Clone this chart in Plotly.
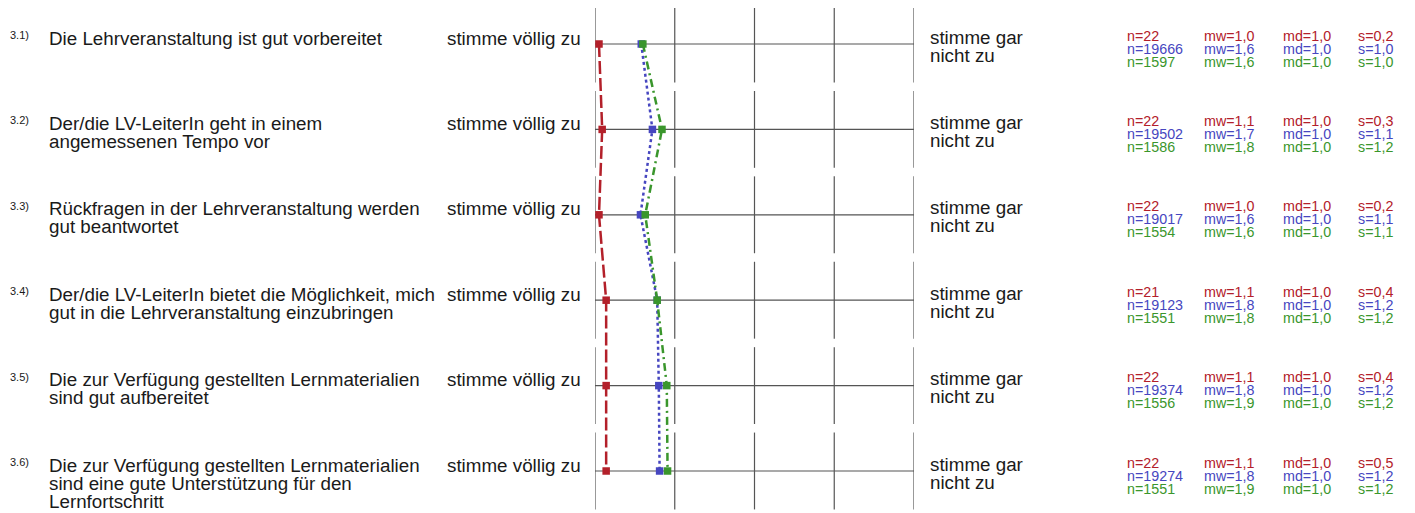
import plotly.graph_objects as go

# ---------------- data ----------------
item_ids = ["3.1)", "3.2)", "3.3)", "3.4)", "3.5)", "3.6)"]
item_text = [
    ["Die Lehrveranstaltung ist gut vorbereitet"],
    ["Der/die LV-LeiterIn geht in einem", "angemessenen Tempo vor"],
    ["Rückfragen in der Lehrveranstaltung werden", "gut beantwortet"],
    ["Der/die LV-LeiterIn bietet die Möglichkeit, mich", "gut in die Lehrveranstaltung einzubringen"],
    ["Die zur Verfügung gestellten Lernmaterialien", "sind gut aufbereitet"],
    ["Die zur Verfügung gestellten Lernmaterialien", "sind eine gute Unterstützung für den", "Lernfortschritt"],
]
left_label = "stimme völlig zu"
right_label = ["stimme gar", "nicht zu"]
scale_levels = [1, 2, 3, 4, 5]

# plotted profile values
red_vals = [1.05, 1.09, 1.05, 1.14, 1.14, 1.14]
blue_vals = [1.58, 1.72, 1.57, 1.78, 1.80, 1.81]
green_vals = [1.60, 1.84, 1.63, 1.78, 1.90, 1.91]

# statistics
red_n = [22, 22, 22, 21, 22, 22]
red_mw = [1.0, 1.1, 1.0, 1.1, 1.1, 1.1]
red_md = [1.0, 1.0, 1.0, 1.0, 1.0, 1.0]
red_s = [0.2, 0.3, 0.2, 0.4, 0.4, 0.5]

blue_n = [19666, 19502, 19017, 19123, 19374, 19274]
blue_mw = [1.6, 1.7, 1.6, 1.8, 1.8, 1.8]
blue_md = [1.0, 1.0, 1.0, 1.0, 1.0, 1.0]
blue_s = [1.0, 1.1, 1.1, 1.2, 1.2, 1.2]

green_n = [1597, 1586, 1554, 1551, 1556, 1551]
green_mw = [1.6, 1.8, 1.6, 1.8, 1.9, 1.9]
green_md = [1.0, 1.0, 1.0, 1.0, 1.0, 1.0]
green_s = [1.0, 1.2, 1.1, 1.2, 1.2, 1.2]

# ---------------- styling ----------------
RED = "#b3202a"
BLUE = "#4646c0"
GREEN = "#3a962c"
GRID = "#555555"
TXT = "#1a1a1a"
FONT = "Liberation Sans, Arial, sans-serif"

OFF = 8  # page body margin of the browser
W, H = 1415 - OFF, 513 - OFF
X_LEFT_PX, X_RIGHT_PX = 594.5 - OFF, 914.3 - OFF
ROW0_PX, ROW_STEP = 44.0 - OFF, 85.4

rows = list(range(1, len(item_ids) + 1))

fig = go.Figure()

series = [
    (red_vals, RED, "13px,4px"),
    (blue_vals, BLUE, "dot"),
    (green_vals, GREEN, "8px,4px,2px,4px"),
]
for vals, col, dash in series:
    fig.add_trace(go.Scatter(
        x=vals, y=rows, mode="lines+markers",
        line=dict(color=col, width=2.5, dash=dash),
        marker=dict(symbol="square", size=7.5, color=col),
        cliponaxis=False, showlegend=False, hoverinfo="skip",
    ))

shapes = []
half = 0.45
for r in rows:
    shapes.append(dict(type="line", xref="x", yref="y", x0=scale_levels[0], x1=scale_levels[-1],
                       y0=r, y1=r, line=dict(color=GRID, width=1.2), layer="below"))
    for k in scale_levels:
        shapes.append(dict(type="line", xref="x", yref="y", x0=k, x1=k,
                           y0=r - half, y1=r + half, line=dict(color=GRID, width=1.2), layer="below"))


def px_to_paper(p):
    return (p - OFF - X_LEFT_PX) / (X_RIGHT_PX - X_LEFT_PX)


def fmt(v):
    return ("%.1f" % v).replace(".", ",")


ann = []
for i, r in enumerate(rows):
    ann.append(dict(x=px_to_paper(6), y=r, xref="paper", yref="y", text=item_ids[i],
                    showarrow=False, xanchor="left", yanchor="middle", yshift=9,
                    font=dict(family=FONT, size=11, color=TXT)))
    for j, line in enumerate(item_text[i]):
        ann.append(dict(x=px_to_paper(45), y=r, xref="paper", yref="y", text=line,
                        showarrow=False, xanchor="left", yanchor="middle", yshift=6 - 18 * j,
                        font=dict(family=FONT, size=18.8, color=TXT)))
    ann.append(dict(x=px_to_paper(582), y=r, xref="paper", yref="y", text=left_label,
                    showarrow=False, xanchor="right", yanchor="middle", yshift=6,
                    font=dict(family=FONT, size=18.8, color=TXT)))
    for j, line in enumerate(right_label):
        ann.append(dict(x=px_to_paper(928), y=r, xref="paper", yref="y", text=line,
                        showarrow=False, xanchor="left", yanchor="middle", yshift=7 - 18 * j,
                        font=dict(family=FONT, size=18.8, color=TXT)))
    stat_rows = [
        (red_n, red_mw, red_md, red_s, RED),
        (blue_n, blue_mw, blue_md, blue_s, BLUE),
        (green_n, green_mw, green_md, green_s, GREEN),
    ]
    for j, (nn, mw, md, ss, col) in enumerate(stat_rows):
        texts = ["n=%d" % nn[i], "mw=" + fmt(mw[i]), "md=" + fmt(md[i]), "s=" + fmt(ss[i])]
        for xp, t in zip([1126, 1203, 1282, 1357], texts):
            ann.append(dict(x=px_to_paper(xp), y=r, xref="paper", yref="y", text=t,
                            showarrow=False, xanchor="left", yanchor="middle", yshift=8.5 - 13 * j,
                            font=dict(family=FONT, size=14.3, color=col)))

y_top = 1 - ROW0_PX / ROW_STEP
y_bot = 1 + (H - ROW0_PX) / ROW_STEP

fig.update_layout(
    width=W, height=H,
    margin=dict(l=X_LEFT_PX, r=W - X_RIGHT_PX, t=0, b=0, pad=0),
    paper_bgcolor="white", plot_bgcolor="rgba(0,0,0,0)",
    xaxis=dict(range=[1, 5], visible=False, fixedrange=True),
    yaxis=dict(range=[y_bot, y_top], visible=False, fixedrange=True),
    shapes=shapes, annotations=ann, showlegend=False,
)

fig.write_html("out.html", config={"displayModeBar": False})
